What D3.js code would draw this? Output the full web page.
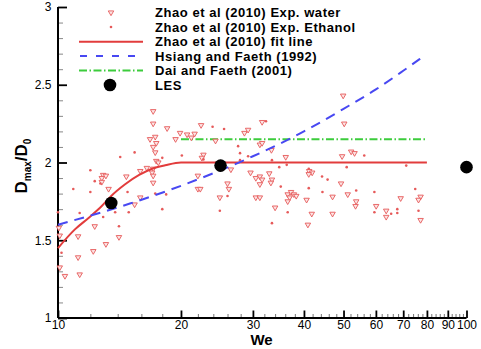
<!DOCTYPE html>
<html>
<head>
<meta charset="utf-8">
<script src="https://cdn.jsdelivr.net/npm/d3@7"></script>
<style>
  body { margin: 0; background: #fff; }
  svg { display: block; }
  text { font-family: "Liberation Sans", Arial, Helvetica, sans-serif; fill: #000; }
</style>
</head>
<body>
<svg id="chart" width="481" height="349"></svg>
<script>
// Maximum droplet deformation D_max/D_0 versus Weber number We

// Zhao et al (2010), water droplets: [We, Dmax/D0]
const waterPoints = [
  [10.1,1.325],[10.4,1.27],[11.3,1.28],[11.2,1.39],[12.2,1.43],[13.1,1.475],[14.1,1.52],
  [11.2,1.525],[12.3,1.59],[10.1,1.53],[10.05,1.58],[13.3,1.83],[12.9,1.92],[13.1,1.915],
  [12.8,1.90],[12.8,1.875],[14.7,1.91],[15.9,1.775],[15.4,1.73],[16.5,1.965],[15.9,1.945],
  [17.1,2.33],[17.1,2.25],[18.5,2.22],[17.3,2.165],[16.8,2.15],[17.4,2.125],[17.1,2.10],
  [17.3,2.065],[17.4,2.01],[17.6,2.0],[17.1,1.96],[17.0,1.935],[17.1,1.915],[17.1,1.87],
  [19.9,2.19],[19.4,2.15],[20.7,2.18],[21.2,2.16],[21.6,2.185],[22.4,2.24],[24.3,2.14],
  [22.7,2.05],[22.5,2.03],[22.0,1.915],[22.0,1.83],[22.3,1.83],[26.0,1.865],[26.2,1.83],
  [24.9,1.775],[26.5,1.955],[28.6,2.19],[29.2,2.21],[29.6,1.935],[30.5,1.90],[30.5,1.775],
  [31.6,2.26],[31.2,2.115],[31.6,2.125],[31.2,1.91],[31.6,1.89],[31.2,1.86],[31.2,1.775],
  [49.9,2.43],[50.2,2.25],[52.2,2.07],[53.2,2.06],[49.6,2.04],[32.9,1.93],[33.4,1.89],
  [33.2,1.87],[34.0,1.71],[36.5,1.795],[37.2,1.81],[37.8,1.795],[38.3,1.785],[36.9,1.775],
  [36.5,1.75],[40.6,1.76],[41.2,1.945],[41.9,1.935],[41.1,1.925],[41.8,1.67],[40.9,1.60],
  [47.0,1.78],[47.0,1.67],[49.3,1.865],[51.2,1.795],[53.7,1.75],[53.5,1.72],[33.3,2.08],
  [60.1,1.72],[63.6,1.69],[63.6,1.65],[69.0,1.77],[77.2,1.78],[76.3,1.76],[77.2,1.63],
  [36.1,2.035]
];

// Zhao et al (2010), ethanol droplets: [We, Dmax/D0]
const ethanolPoints = [
  [10.9,1.83],[12.0,1.95],[12.3,1.88],[12.7,1.865],[12.0,1.81],[14.2,2.035],[15.4,2.065],
  [14.8,1.81],[13.8,1.68],[12.9,1.65],[11.3,1.675],[14.9,1.68],[14.1,1.59],[18.0,1.70],
  [17.3,1.80],[10.2,1.42],[18.4,1.795],[24.9,1.69],[23.9,2.23],[20.1,2.045],[27.6,2.105],
  [27.9,2.06],[27.9,2.015],[26.0,1.785],[18.0,2.03],[25.5,2.215],[22.7,2.02],[29.2,2.04],
  [32.3,2.265],[33.4,2.015],[34.8,1.97],[36.3,1.985],[35.1,1.845],[36.5,1.68],[33.4,1.61],
  [41.1,1.96],[44.3,1.91],[45.7,1.89],[44.4,1.81],[41.1,1.835],[50.9,1.97],[53.7,1.82],
  [56.2,2.045],[71.2,1.98],[59.5,1.81],[59.5,1.68],[65.4,1.67],[67.7,1.70],[67.7,1.675],
  [76.3,1.69],[74.9,1.83],[10.0,1.68]
];

// Zhao et al (2010) fit line
const fitLine = [
  [10,1.45],[11,1.57],[11.9,1.645],[12.8,1.72],[13.5,1.785],[14.6,1.86],[15.8,1.92],
  [17,1.96],[18.3,1.982],[20,2.0],[30,2.0],[50,2.0],[80,2.0]
];

// Hsiang and Faeth (1992)
const hsiangFaeth = [
  [10,1.60],[15,1.736],[20,1.85],[30,2.04],[40,2.20],[50,2.345],[60,2.47],[70,2.59],[77,2.667]
];

// Dai and Faeth (2001)
const daiFaeth = [[20,2.15],[80,2.15]];

// LES results
const lesPoints = [[13.5,1.74],[25.0,1.98],[100,1.97]];

// Axis ticks
const xMajorTicks = [10,20,30,40,50,60,70,80,90,100];
const xMinorTicks = [12,14,16,18,22,24,26,28,32,34,36,38,42,44,46,48,52,54,56,58,
                     62,64,66,68,72,74,76,78,82,84,86,88,92,94,96,98];
const yMajorTicks = [1,1.5,2,2.5,3];
const yMinorTicks = [1.1,1.2,1.3,1.4,1.6,1.7,1.8,1.9,2.1,2.2,2.3,2.4,2.6,2.7,2.8,2.9];

const legendLabels = [
  "Zhao et al (2010) Exp. water",
  "Zhao et al (2010) Exp. Ethanol",
  "Zhao et al (2010) fit line",
  "Hsiang and Faeth (1992)",
  "Dai and Faeth (2001)",
  "LES"
];

const svg = d3.select("#chart");

const x = d3.scaleLog().domain([10, 100]).range([58, 466.5]);
const y = d3.scaleLinear().domain([1, 3]).range([318, 7]);

const RED = "#e23c3c";
const MARK = "#e65a5a";
const BLUE = "#4848f2";
const GREEN = "#3ccc3c";

// ---- axes ----
const xMinorAxis = d3.axisBottom(x).tickValues(xMinorTicks).tickSize(-4).tickFormat("");
const xMajorAxis = d3.axisBottom(x).tickValues(xMajorTicks).tickSize(-7.5).tickPadding(2.5)
  .tickFormat(d3.format("d"));
const yMinorAxis = d3.axisLeft(y).tickValues(yMinorTicks).tickSize(-5).tickFormat("");
const yMajorAxis = d3.axisLeft(y).tickValues(yMajorTicks).tickSize(-9).tickPadding(6.5)
  .tickFormat(d => String(d));

function styleAxis(g, width, color) {
  g.select(".domain").remove();
  g.selectAll(".tick line").attr("stroke", color).attr("stroke-width", width);
  g.selectAll(".tick text").attr("font-size", 12).attr("fill", "#000")
    .style("font-family", '"Liberation Sans", Arial, sans-serif');
}

svg.append("g").attr("transform", "translate(0,318)").call(xMinorAxis)
  .call(g => styleAxis(g, 1, "#777"));
svg.append("g").attr("transform", "translate(0,318)").call(xMajorAxis)
  .call(g => styleAxis(g, 1.8, "#000"));
svg.append("g").attr("transform", "translate(58,0)").call(yMinorAxis)
  .call(g => styleAxis(g, 1, "#888"));
svg.append("g").attr("transform", "translate(58,0)").call(yMajorAxis)
  .call(g => styleAxis(g, 1.8, "#000"));

// axis lines
svg.append("line").attr("x1", x(10)).attr("x2", x(10)).attr("y1", y(3)).attr("y2", y(1))
  .attr("stroke", "#000").attr("stroke-width", 2);
svg.append("line").attr("x1", x(10)).attr("x2", x(100)).attr("y1", y(1)).attr("y2", y(1))
  .attr("stroke", "#000").attr("stroke-width", 2);

// axis titles
svg.append("text").attr("x", 261.5).attr("y", 345).attr("text-anchor", "middle")
  .attr("font-size", 15).attr("font-weight", "bold").text("We");

const yTitle = svg.append("text")
  .attr("transform", "translate(26.5,166) rotate(-90)")
  .attr("text-anchor", "middle").attr("font-size", 17).attr("font-weight", "bold");
yTitle.append("tspan").text("D");
yTitle.append("tspan").attr("font-size", 10).attr("dy", 4).text("max");
yTitle.append("tspan").attr("dy", -4).text("/D");
yTitle.append("tspan").attr("font-size", 10).attr("dy", 4).text("0");

// ---- curves ----
const line = d3.line().x(d => x(d[0])).y(d => y(d[1])).curve(d3.curveMonotoneX);

svg.append("path").datum(daiFaeth).attr("d", line).attr("fill", "none")
  .attr("stroke", GREEN).attr("stroke-width", 2).attr("stroke-dasharray", "8,2.5,1.5,2.5");

// ---- scatter ----
const tri = d3.symbol().type(d3.symbolTriangle).size(13);

svg.append("g").selectAll("path").data(waterPoints).join("path")
  .attr("d", tri)
  .attr("transform", d => `translate(${x(d[0])},${y(d[1])}) rotate(180)`)
  .attr("fill", "#fbe4e4").attr("stroke", MARK).attr("stroke-width", 0.9);

svg.append("g").selectAll("circle").data(ethanolPoints).join("circle")
  .attr("cx", d => x(d[0])).attr("cy", d => y(d[1])).attr("r", 1.3)
  .attr("fill", MARK);

svg.append("path").datum(fitLine).attr("d", line).attr("fill", "none")
  .attr("stroke", RED).attr("stroke-width", 2);

svg.append("path").datum(hsiangFaeth).attr("d", line).attr("fill", "none")
  .attr("stroke", BLUE).attr("stroke-width", 2).attr("stroke-dasharray", "10,7");

svg.append("g").selectAll("circle").data(lesPoints).join("circle")
  .attr("cx", d => x(d[0])).attr("cy", d => y(d[1])).attr("r", 6.3)
  .attr("fill", "#000");

// ---- legend ----
const legendRowY = [12.5, 27, 41.7, 56, 70.6, 85];
const legend = svg.append("g");

legend.selectAll("text").data(legendLabels).join("text")
  .attr("x", 155).attr("y", (d, i) => legendRowY[i] + 4.6)
  .attr("font-size", 13).attr("font-weight", "bold")
  .attr("letter-spacing", 0.55)
  .text(d => d);

legend.append("path").attr("d", tri)
  .attr("transform", `translate(111,${legendRowY[0]}) rotate(180)`)
  .attr("fill", "#fbe4e4").attr("stroke", MARK).attr("stroke-width", 0.9);
legend.append("circle").attr("cx", 111).attr("cy", legendRowY[1]).attr("r", 1.3).attr("fill", MARK);
legend.append("line").attr("x1", 79).attr("x2", 143).attr("y1", legendRowY[2]).attr("y2", legendRowY[2])
  .attr("stroke", RED).attr("stroke-width", 2);
legend.append("line").attr("x1", 80).attr("x2", 143).attr("y1", legendRowY[3]).attr("y2", legendRowY[3])
  .attr("stroke", BLUE).attr("stroke-width", 2).attr("stroke-dasharray", "7,9");
legend.append("line").attr("x1", 79).attr("x2", 143).attr("y1", legendRowY[4]).attr("y2", legendRowY[4])
  .attr("stroke", GREEN).attr("stroke-width", 2).attr("stroke-dasharray", "8,2.5,1.5,2.5");
legend.append("circle").attr("cx", 110).attr("cy", legendRowY[5]).attr("r", 6.3).attr("fill", "#000");
</script>
</body>
</html>
